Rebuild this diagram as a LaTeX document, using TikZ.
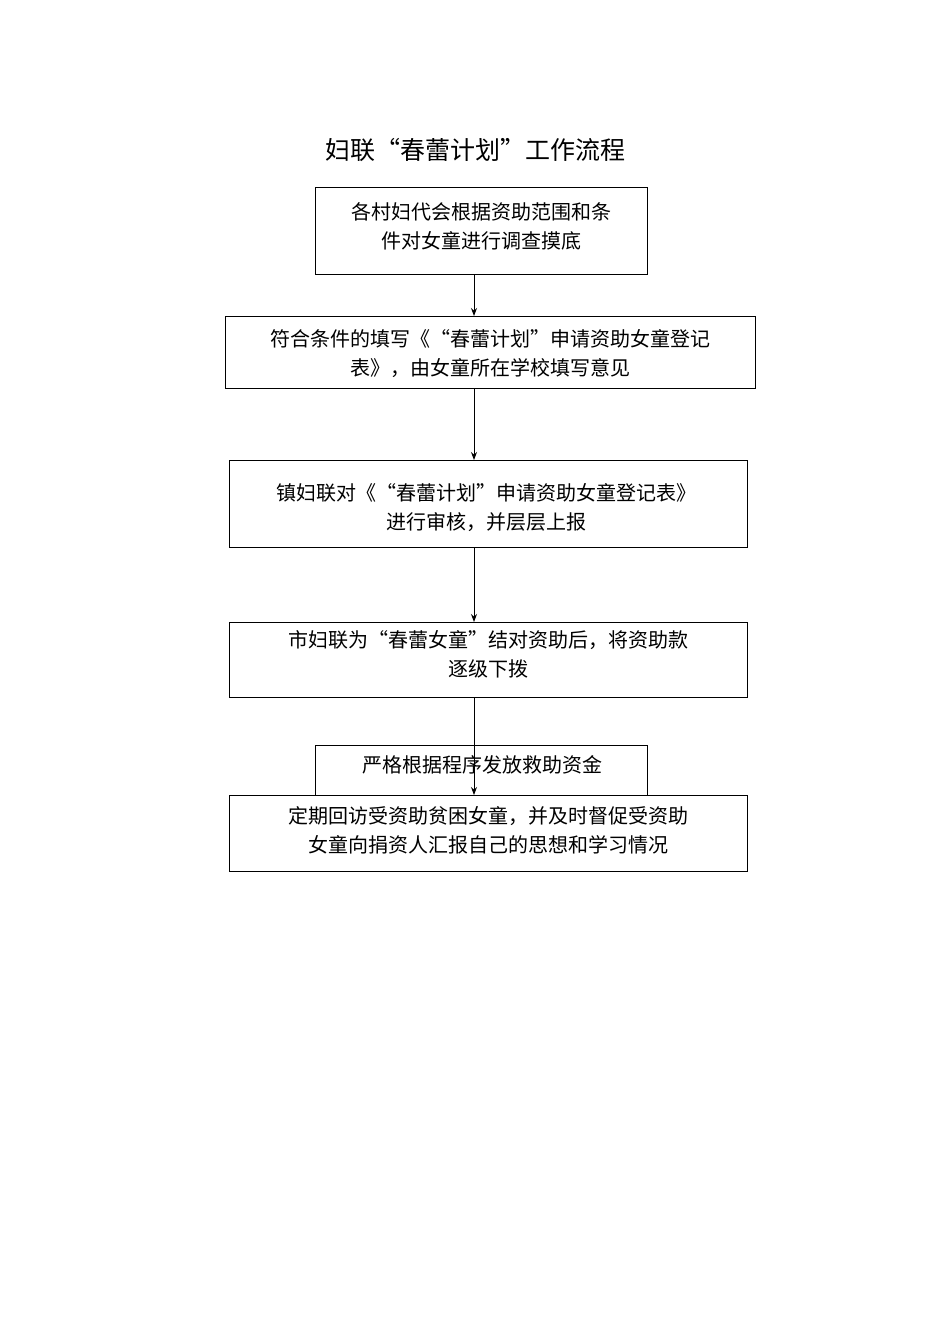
\documentclass[tikz,border=0pt]{standalone}
\usepackage{fontspec}
\setmainfont{Noto Sans CJK SC}
\usetikzlibrary{arrows.meta}
\begin{document}
\begin{tikzpicture}[x=1pt,y=-1pt,
  box/.style={draw,line width=0.9pt},
  txt/.style={font=\fontsize{20}{29}\selectfont,align=center,inner sep=0pt},
  arr/.style={-{Stealth[length=8pt,width=6pt]},line width=0.9pt}]
\useasboundingbox (0,0) rectangle (950,1344);
\node[font=\fontsize{25}{30}\selectfont] (t) at (475,150) {妇联“春蕾计划"工作流程};
\draw[box] (315,187) rectangle (647,274); \coordinate (b1t) at (474,187); \coordinate (b1b) at (474,274);
\node[txt] (n1) at (481,226) {各村妇代会根据资助范围和条\\件对女童进行调查摸底};
\draw[box] (225,316) rectangle (755,388); \coordinate (b2t) at (474,316); \coordinate (b2b) at (474,388);
\node[txt] (n2) at (490,354) {符合条件的填写《“春蕾计划”申请资助女童登记\\表》，由女童所在学校填写意见};
\draw[box] (229,460) rectangle (747,547); \coordinate (b3t) at (474,460); \coordinate (b3b) at (474,547);
\node[txt] (n3) at (486,508) {镇妇联对《“春蕾计划”申请资助女童登记表》\\进行审核，并层层上报};
\draw[box] (229,622) rectangle (747,697); \coordinate (b4t) at (474,622); \coordinate (b4b) at (474,697);
\node[txt] (n4) at (488,654) {市妇联为“春蕾女童”结对资助后，将资助款\\逐级下拨};
\draw[box] (315,745) rectangle (647,795);
\node[txt] (n5) at (482,765) {严格根据程序发放救助资金};
\draw[box] (229,795) rectangle (747,871); \coordinate (b6t) at (474,795);
\node[txt] (n6) at (488,830) {定期回访受资助贫困女童，并及时督促受资助\\女童向捐资人汇报自己的思想和学习情况};
\draw[arr] (b1b) -- (b2t);
\draw[arr] (b2b) -- (b3t);
\draw[arr] (b3b) -- (b4t);
\draw[arr] (b4b) -- (b6t);
\end{tikzpicture}
\end{document}
